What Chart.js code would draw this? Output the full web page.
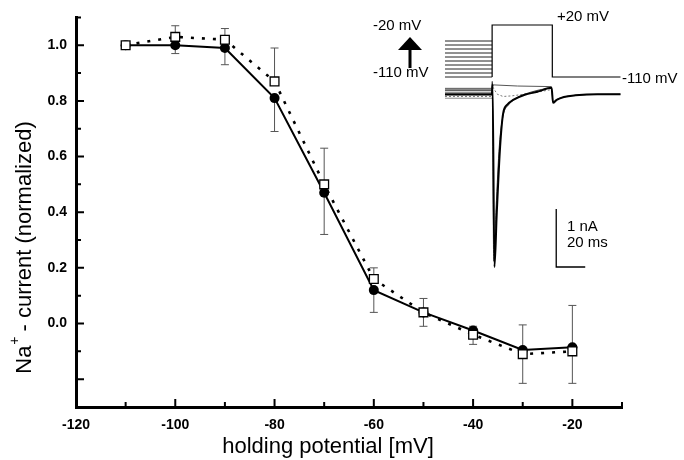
<!DOCTYPE html>
<html>
<head>
<meta charset="utf-8">
<script src="https://cdn.jsdelivr.net/npm/chart.js@4.4.1/dist/chart.umd.min.js"></script>
<style>
html, body { margin: 0; padding: 0; background: #fff; }
#wrap { position: relative; width: 684px; height: 460px; }
#main { position: absolute; left: 0; top: 0; }
#inset { position: absolute; left: 360px; top: 0; }
</style>
</head>
<body>
<div id="wrap">
  <canvas id="main" width="684" height="460"></canvas>
  <canvas id="inset" width="324" height="280"></canvas>
</div>
<script>
// Main plot: holding potential (mV) vs normalized Na+ current
var potentials = [-110, -100, -90, -80, -70, -60, -50, -40, -30, -20];
// open squares, dotted line (error bars drawn upward)
var squareVals = [1.00, 1.03, 1.02, 0.87, 0.50, 0.16, 0.04, -0.04, -0.11, -0.10];
var squareErr  = [0, 0.04, 0.04, 0.12, 0.13, 0.04, 0.05, 0.03, 0.105, 0.165];
// filled circles, solid line (error bars drawn downward)
var circleVals = [1.00, 1.00, 0.99, 0.81, 0.47, 0.12, 0.04, -0.025, -0.095, -0.085];
var circleErr  = [0, 0.03, 0.06, 0.12, 0.15, 0.08, 0.05, 0.05, 0.12, 0.13];

var xTickLabels = ['-120', '-100', '-80', '-60', '-40', '-20'];
var yTickLabels = ['0.0', '0.2', '0.4', '0.6', '0.8', '1.0'];

// Inset: voltage protocol (mV) and current traces (nA), time in ms
var prepulseLevels = [-110, -100, -90, -80, -70, -60, -50, -40, -30, -20];
var prepulseT = [0, 32.5];
var protocolT = [32.5, 32.5, 74, 74, 121];
var protocolV = [-110, 20, 20, -110, -110];

var peakT = [0, 32.3, 32.8, 34.1, 35.7, 38.0, 40.1, 43, 47, 55, 63.6, 73.5, 74.5, 77, 82, 90, 105, 121];
var peakI = [-0.02, -0.02, 0.15, -3.0, -2.07, -0.93, -0.35, -0.2, -0.12, -0.03, 0.02, 0.09, -0.17, -0.12, -0.07, -0.04, -0.02, -0.02];
var peak2T = [0, 32.3, 32.6, 33.6, 35.2, 37.5, 40, 44, 50, 60, 73.5, 74.5, 78, 90, 121];
var peak2I = [0.04, 0.04, 0.2, -2.9, -2.0, -0.9, -0.4, -0.2, -0.08, 0.02, 0.08, -0.15, -0.1, -0.04, -0.02];
var smallT = [0, 32.3, 33, 36, 40, 46, 55, 65, 73.5];
var smallI = [-0.06, -0.06, 0.1, -0.02, -0.06, -0.05, -0.02, 0.02, 0.06];
var flatT = [0, 32.3, 33, 50, 73.5];
var flatI = [0.08, 0.08, 0.14, 0.12, 0.11];
var holdLevels = [0.06, 0.01, -0.04, -0.09];

var scaleBarT = [76.7, 76.7, 96.7];
var scaleBarI = [-2, -3, -3];

var FONT = '"Liberation Sans", Arial, Helvetica, sans-serif';

function pairs(xs, ys) {
  return xs.map(function(x, i) { return { x: x, y: ys[i] }; });
}

// ticks pointing into the plot
var innerTicks = {
  id: 'innerTicks',
  afterDatasetsDraw: function(chart) {
    var ctx = chart.ctx, a = chart.chartArea, xs = chart.scales.x, ys = chart.scales.y;
    ctx.save();
    ctx.strokeStyle = '#000';
    ctx.lineWidth = 2;
    ctx.beginPath();
    xs.ticks.forEach(function(t) {
      var px = xs.getPixelForValue(t.value);
      var len = Math.round(t.value) % 20 === 0 ? 8 : 5;
      ctx.moveTo(px, a.bottom); ctx.lineTo(px, a.bottom - len);
    });
    ys.ticks.forEach(function(t) {
      var py = ys.getPixelForValue(t.value);
      var len = Math.round(t.value * 10) % 2 === 0 ? 8 : 5;
      ctx.moveTo(a.left, py); ctx.lineTo(a.left + len, py);
    });
    ctx.stroke();
    ctx.restore();
  }
};

var errorBars = {
  id: 'errorBars',
  beforeDatasetsDraw: function(chart) {
    var ctx = chart.ctx, xs = chart.scales.x, ys = chart.scales.y;
    ctx.save();
    ctx.strokeStyle = '#555';
    ctx.lineWidth = 1;
    function bar(x, y, e, dir) {
      if (!e) return;
      var px = xs.getPixelForValue(x), p0 = ys.getPixelForValue(y), p1 = ys.getPixelForValue(y + dir * e);
      ctx.beginPath();
      ctx.moveTo(px, p0); ctx.lineTo(px, p1);
      ctx.moveTo(px - 4, p1); ctx.lineTo(px + 4, p1);
      ctx.stroke();
    }
    potentials.forEach(function(x, i) {
      bar(x, squareVals[i], squareErr[i], 1);
      bar(x, circleVals[i], circleErr[i], -1);
    });
    ctx.restore();
  }
};

var axisTitles = {
  id: 'axisTitles',
  afterDraw: function(chart) {
    var ctx = chart.ctx;
    ctx.save();
    ctx.fillStyle = '#000';
    ctx.textBaseline = 'alphabetic';
    ctx.font = '22px ' + FONT;
    ctx.textAlign = 'center';
    ctx.fillText('holding potential [mV]', 328, 453);

    // y title with superscript +
    ctx.textAlign = 'left';
    var wNa = ctx.measureText('Na').width;
    var rest = ' - current (normalized)';
    var wRest = ctx.measureText(rest).width;
    var wPlus = 8;
    var total = wNa + wPlus + wRest;
    ctx.translate(31, 247.5 + total / 2);
    ctx.rotate(-Math.PI / 2);
    ctx.fillText('Na', 0, 0);
    ctx.fillText(rest, wNa + wPlus, 0);
    ctx.font = '14px ' + FONT;
    ctx.fillText('+', wNa + 1, -12);
    ctx.restore();
  }
};

new Chart(document.getElementById('main'), {
  type: 'line',
  data: {
    datasets: [
      {
        data: pairs(potentials, squareVals),
        borderColor: '#000', borderWidth: 2.6, borderDash: [3, 8],
        pointStyle: 'rect', pointRadius: 6.2, pointBackgroundColor: '#fff',
        pointBorderColor: '#000', pointBorderWidth: 1.3, tension: 0
      },
      {
        data: pairs(potentials, circleVals),
        borderColor: '#000', borderWidth: 2,
        pointStyle: 'circle', pointRadius: 5, pointBackgroundColor: '#000',
        pointBorderColor: '#000', pointBorderWidth: 0, tension: 0
      }
    ]
  },
  options: {
    responsive: false,
    animation: false,
    devicePixelRatio: 1,
    layout: { padding: { top: 12.5, right: 62, left: 0, bottom: 0 } },
    plugins: { legend: { display: false }, tooltip: { enabled: false } },
    scales: {
      x: {
        type: 'linear', min: -120, max: -10,
        afterFit: function(s) { s.height = 53; },
        grid: { display: false, drawTicks: false },
        border: { display: true, color: '#000', width: 3 },
        ticks: {
          stepSize: 10, autoSkip: false, maxRotation: 0, padding: 10, color: '#000',
          font: { family: FONT, size: 14, weight: 'bold' },
          callback: function(v) { var s = String(Math.round(v)); return xTickLabels.indexOf(s) >= 0 ? s : ''; }
        }
      },
      y: {
        type: 'linear', min: -0.3, max: 1.1,
        afterFit: function(s) { s.width = 76; },
        grid: { display: false, drawTicks: false },
        border: { display: true, color: '#000', width: 3 },
        ticks: {
          stepSize: 0.1, autoSkip: false, padding: 9, color: '#000',
          font: { family: FONT, size: 14, weight: 'bold' },
          callback: function(v) { var s = (Math.round(v * 10) / 10).toFixed(1); return yTickLabels.indexOf(s) >= 0 ? s : ''; }
        }
      }
    }
  },
  plugins: [errorBars, innerTicks, axisTitles]
});

// Inset
var insetLabels = {
  id: 'insetLabels',
  afterDraw: function(chart) {
    var ctx = chart.ctx;
    ctx.save();
    ctx.fillStyle = '#000';
    ctx.font = '15px ' + FONT;
    ctx.textAlign = 'left';
    ctx.textBaseline = 'middle';
    ctx.fillText('-20 mV', 13, 26);
    ctx.fillText('-110 mV', 13, 73);
    ctx.fillText('+20 mV', 197, 17);
    ctx.fillText('-110 mV', 262, 79);
    ctx.fillText('1 nA', 207, 227);
    ctx.fillText('20 ms', 207, 243);
    // arrow
    ctx.beginPath();
    ctx.moveTo(50, 37); ctx.lineTo(62, 50); ctx.lineTo(38, 50); ctx.closePath();
    ctx.fill();
    ctx.fillRect(48.5, 49, 3, 19);
    ctx.restore();
  }
};

var insetSets = [
  { data: pairs(peakT, peakI), yAxisID: 'yI', borderColor: '#000', borderWidth: 2, cubicInterpolationMode: 'monotone' },
  { data: pairs(peak2T, peak2I), yAxisID: 'yI', borderColor: '#444', borderWidth: 1, cubicInterpolationMode: 'monotone' },
  { data: pairs(smallT, smallI), yAxisID: 'yI', borderColor: '#777', borderWidth: 1, borderDash: [2, 2] },
  { data: pairs(flatT, flatI), yAxisID: 'yI', borderColor: '#555', borderWidth: 1 },
  { data: pairs(protocolT, protocolV), yAxisID: 'yV', borderColor: '#000', borderWidth: 1.2 },
  { data: pairs(scaleBarT, scaleBarI), yAxisID: 'yI', borderColor: '#000', borderWidth: 1.3 }
];
holdLevels.forEach(function(h) {
  insetSets.push({ data: pairs(prepulseT, [h, h]), yAxisID: 'yI', borderColor: '#888', borderWidth: 1 });
});
prepulseLevels.forEach(function(v) {
  insetSets.push({ data: pairs(prepulseT, [v, v]), yAxisID: 'yV', borderColor: '#222', borderWidth: 1 });
});
insetSets.forEach(function(d) { d.pointRadius = 0; d.fill = false; if (!d.cubicInterpolationMode) d.tension = 0; });

new Chart(document.getElementById('inset'), {
  type: 'line',
  data: { datasets: insetSets },
  options: {
    responsive: false,
    animation: false,
    devicePixelRatio: 1,
    layout: { padding: 0 },
    plugins: { legend: { display: false }, tooltip: { enabled: false } },
    scales: {
      x: { type: 'linear', display: false, min: -58.6, max: 164.8 },
      yV: { type: 'linear', display: false, min: -617.5, max: 82.5 },
      yI: { type: 'linear', display: false, min: -3.224, max: 1.603 }
    }
  },
  plugins: [insetLabels]
});
</script>
</body>
</html>
